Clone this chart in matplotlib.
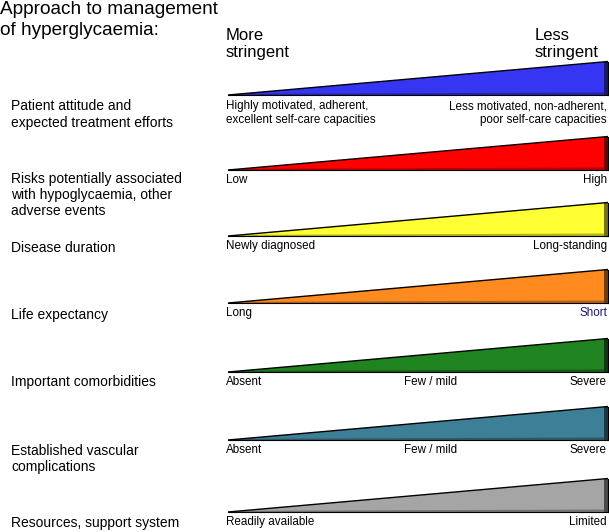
import matplotlib.pyplot as plt
from matplotlib.patches import Polygon
import matplotlib.colors as mcolors

plt.rcParams['font.family'] = ['Liberation Sans', 'DejaVu Sans']

# Datos del diagrama
titulo = "Approach to management\nof hyperglycaemia:"
categorias = [
    "Patient attitude and\nexpected treatment efforts",
    "Risks potentially associated\nwith hypoglycaemia, other\nadverse events",
    "Disease duration",
    "Life expectancy",
    "Important comorbidities",
    "Established vascular\ncomplications",
    "Resources, support system",
]
etiqueta_izq = [
    "Highly motivated, adherent,\nexcellent self-care capacities",
    "Low",
    "Newly diagnosed",
    "Long",
    "Absent",
    "Absent",
    "Readily available",
]
etiqueta_centro = ["", "", "", "", "Few / mild", "Few / mild", ""]
etiqueta_der = [
    "Less motivated, non-adherent,\npoor self-care capacities",
    "High",
    "Long-standing",
    "Short",
    "Severe",
    "Severe",
    "Limited",
]
colores = ["#3535f2", "#ff0000", "#ffff33", "#ff8a1f", "#1f841f", "#3d7f96", "#a5a5a5"]
color_texto_der = ["black", "black", "black", "#1a1a7a", "black", "black", "black"]

# Posiciones (pixeles) de cada cuña
base_y = [95, 170, 236, 303, 372, 440, 512]
cat_y = [114.5, 195, 248, 315, 382, 459, 523]
alto = 33
x0, x1, bisel = 228, 604, 4

fig = plt.figure(figsize=(6.09, 5.32), dpi=100)
ax = fig.add_axes([0, 0, 1, 1])
ax.set_xlim(0, 609)
ax.set_ylim(532, 0)
ax.axis('off')

ax.text(0, 20, titulo, fontsize=13.7, ha='left', va='center', linespacing=1.35)
ax.text(226, 44, "More\nstringent", fontsize=12, ha='left', va='center', linespacing=1.23)
ax.text(535, 44, "Less\nstringent", fontsize=12, ha='left', va='center', linespacing=1.23)

for i in range(len(categorias)):
    yb = base_y[i]
    yt = yb - alto
    c = mcolors.to_rgb(colores[i])
    oscuro = tuple(v * 0.45 for v in c)
    medio = tuple(v * 0.7 for v in c)
    # cara principal
    ax.add_patch(Polygon([(x0, yb), (x1, yt), (x1, yb)], closed=True,
                         facecolor=c, edgecolor='none'))
    # franja inferior sombreada
    ax.add_patch(Polygon([(x0 + 20, yb - 1.2), (x1, yb - 2.5), (x1, yb), (x0, yb)], closed=True,
                         facecolor=medio, edgecolor='none'))
    # cara lateral (bisel)
    ax.add_patch(Polygon([(x1, yt), (x1 + bisel, yt - 0.5), (x1 + bisel, yb), (x1, yb)], closed=True,
                         facecolor=oscuro, edgecolor='none'))
    # contornos
    ax.plot([x0, x1 + bisel], [yb, yt - 0.5], color='black', lw=1.0, solid_capstyle='butt')
    ax.plot([x0, x1 + bisel], [yb, yb], color='black', lw=0.8)
    ax.plot([x1 + bisel, x1 + bisel], [yt - 0.5, yb], color='black', lw=0.8)

    ax.text(11, cat_y[i], categorias[i], fontsize=10, ha='left', va='center', linespacing=1.2)
    if i == 0:
        ly = yb + 18
        ax.text(226, ly, etiqueta_izq[i], fontsize=8.4, ha='left', va='center', linespacing=1.15)
        ax.text(607, ly, etiqueta_der[i], fontsize=8.4, ha='right', va='center',
                linespacing=1.15, multialignment='right')
    else:
        ly = yb + 10
        ax.text(226, ly, etiqueta_izq[i], fontsize=8.4, ha='left', va='center')
        ax.text(607, ly, etiqueta_der[i], fontsize=8.4, ha='right', va='center',
                color=color_texto_der[i])
        if etiqueta_centro[i]:
            ax.text(431, ly, etiqueta_centro[i], fontsize=8.4, ha='center', va='center')

fig.savefig('out.png', dpi=100)
